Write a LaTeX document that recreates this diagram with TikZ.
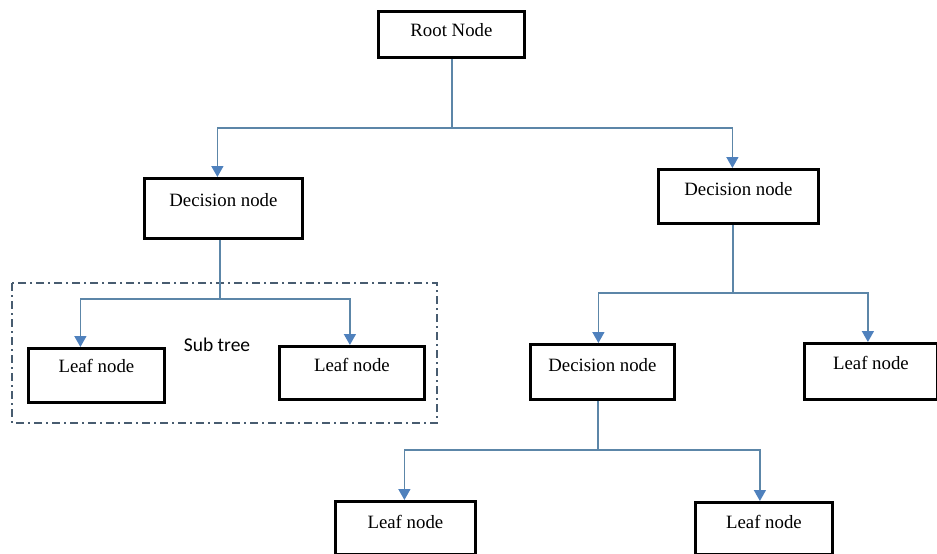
\documentclass[tikz,border=0pt]{standalone}
\usepackage{fontspec}
\setmainfont{Liberation Serif}
\newfontfamily\subfont{Carlito}
\usetikzlibrary{arrows.meta}
\definecolor{lineblue}{RGB}{92,134,168}
\definecolor{headblue}{RGB}{79,129,189}
\definecolor{dashgrey}{RGB}{72,92,112}
\tikzset{
  treebox/.style={draw=black, line width=2.8pt, fill=white, inner xsep=0pt, inner ysep=0pt,
    anchor=north west, font=\fontsize{18.8}{20}\selectfont},
  conn/.style={draw=lineblue, line width=1.6pt},
  arr/.style={conn, -{Triangle[width=12pt,length=11pt,color=headblue,fill=headblue]}},
  subbox/.style={draw=dashgrey, line width=2.5pt, dash pattern=on 8pt off 4pt on 2pt off 4pt}
}
\begin{document}
\begin{tikzpicture}[x=1pt,y=-1pt]
\useasboundingbox (0,0) rectangle (937,554);
% dashed subtree frame
\draw[subbox] (12,283) rectangle (437,423);
\node[font=\subfont\fontsize{19.5}{21}\selectfont] (sub) at (217,345) {Sub tree};
% boxes
\node[treebox, minimum width=146pt, text height=25pt, text depth=21pt] (root) at (377,10) {Root Node};
\node[treebox, minimum width=158pt, text height=28pt, text depth=32pt] (decL) at (143,177) {Decision node};
\node[treebox, minimum width=160pt, text height=26pt, text depth=28pt] (decR) at (657,168) {Decision node};
\node[treebox, minimum width=136pt, text height=24pt, text depth=30pt] (leafA) at (27,347) {Leaf node};
\node[treebox, minimum width=145pt, text height=25pt, text depth=28pt] (leafB) at (278,345) {Leaf node};
\node[treebox, minimum width=144pt, text height=27pt, text depth=28pt] (decRR) at (529,343) {Decision node};
\node[treebox, minimum width=133pt, text height=26pt, text depth=30pt] (leafR) at (803,342) {Leaf node};
\node[treebox, minimum width=140pt, text height=27pt, text depth=26pt] (leafC) at (334,500) {Leaf node};
\node[treebox, minimum width=137pt, text height=26pt, text depth=26pt] (leafD) at (694,501) {Leaf node};
% junctions
\coordinate (j1) at (452,128);
\coordinate (j2) at (220,299);
\coordinate (j3) at (733,293);
\coordinate (j4) at (598,450);
% connectors
\draw[conn] (root.south -| j1) -- (j1);
\draw[arr] (j1) -| ([xshift=-6pt]decL.north);
\draw[arr] (j1) -| ([xshift=-6pt]decR.north);
\draw[conn] (decL.south -| j2) -- (j2);
\draw[arr] (j2) -| ([xshift=-16pt]leafA.north);
\draw[arr] (j2) -| ([xshift=-2pt]leafB.north);
\draw[conn] (decR.south -| j3) -- (j3);
\draw[arr] (j3) -| ([xshift=-4pt]decRR.north);
\draw[arr] (j3) -| ([xshift=-3pt]leafR.north);
\draw[conn] (decRR.south -| j4) -- (j4);
\draw[arr] (j4) -| ([xshift=-1pt]leafC.north);
\draw[arr] (j4) -| ([xshift=-4pt]leafD.north);
\end{tikzpicture}
\end{document}
